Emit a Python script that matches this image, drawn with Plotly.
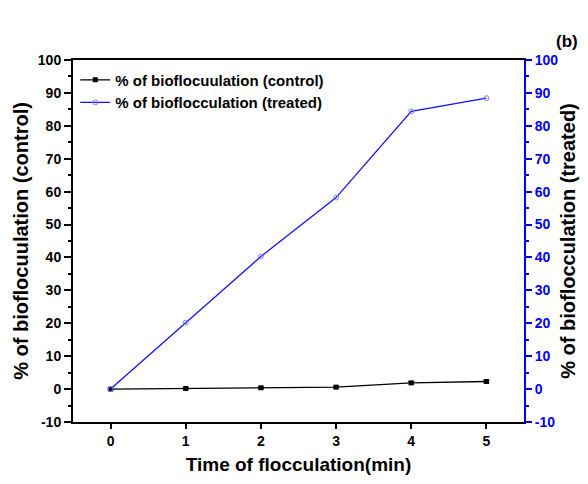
import plotly.graph_objects as go

time_min = [0, 1, 2, 3, 4, 5]
control = [0.0, 0.2, 0.4, 0.6, 1.9, 2.3]
control_err = [0.3, 0.3, 0.3, 0.3, 0.4, 0.4]
treated = [0.0, 20.2, 40.3, 58.2, 84.4, 88.4]

font_family = "Liberation Sans, Arial, sans-serif"

fig = go.Figure()
fig.add_trace(go.Scatter(
    x=time_min, y=control, mode="lines+markers",
    name="<b>% of bioflocuulation (control)</b>",
    line=dict(color="black", width=1.3),
    marker=dict(symbol="square", size=5, color="black"),
    error_y=dict(type="data", array=control_err, color="black", thickness=1, width=3),
))
fig.add_trace(go.Scatter(
    x=time_min, y=treated, mode="lines+markers", yaxis="y2",
    name="<b>% of bioflocculation (treated)</b>",
    line=dict(color="#1010ff", width=1.3),
    marker=dict(symbol="circle-open", size=5, color="#8080ff", line=dict(width=1)),
))

fig.update_layout(
    width=588, height=484,
    margin=dict(l=73, r=61, t=60, b=55),
    paper_bgcolor="white", plot_bgcolor="white",
    font=dict(family=font_family, size=14, color="black"),
    showlegend=True,
    legend=dict(x=0.005, y=0.99, xanchor="left", yanchor="top",
                bgcolor="rgba(0,0,0,0)", font=dict(size=15, color="black"),
                tracegroupgap=0, itemwidth=30),
    xaxis=dict(
        range=[-0.5, 5.5], tickvals=time_min,
        ticktext=[f"<b>{v}</b>" for v in time_min],
        showline=True, linecolor="black", linewidth=2, mirror=True,
        ticks="outside", ticklen=5, tickwidth=1.5, tickcolor="black",
        showgrid=False, zeroline=False,
        title=dict(text="<b>Time of flocculation(min)</b>", font=dict(size=19), standoff=10),
    ),
    yaxis=dict(
        range=[-10, 100], tickvals=list(range(-10, 101, 10)),
        ticktext=[f"<b>{v}</b>" for v in range(-10, 101, 10)],
        showline=True, linecolor="black", linewidth=2,
        ticks="outside", ticklen=7, tickwidth=1.5, tickcolor="black",
        minor=dict(dtick=5, ticks="outside", ticklen=3, tickcolor="black"),
        showgrid=False, zeroline=False,
        title=dict(text="<b>% of bioflocuulation (control)</b>", font=dict(size=20), standoff=4),
    ),
    yaxis2=dict(
        range=[-10, 100], tickvals=list(range(-10, 101, 10)),
        ticktext=[f"<b>{v}</b>" for v in range(-10, 101, 10)],
        overlaying="y", side="right",
        showline=True, linecolor="#0000ff", linewidth=2,
        ticks="outside", ticklen=6, tickwidth=1.5, tickcolor="#0000ff",
        minor=dict(dtick=5, ticks="outside", ticklen=3, tickcolor="#0000ff"),
        tickfont=dict(color="#0000ff"),
        showgrid=False, zeroline=False,
        title=dict(text="<b>% of bioflocculation (treated)</b>", font=dict(size=20, color="black"), standoff=4),
    ),
    annotations=[dict(text="<b>(b)</b>", x=1.0, y=1.02, xref="paper", yref="paper",
                      xanchor="left", yanchor="bottom", xshift=30, showarrow=False,
                      font=dict(size=17, color="black"))],
)

fig.write_html("out.html")
